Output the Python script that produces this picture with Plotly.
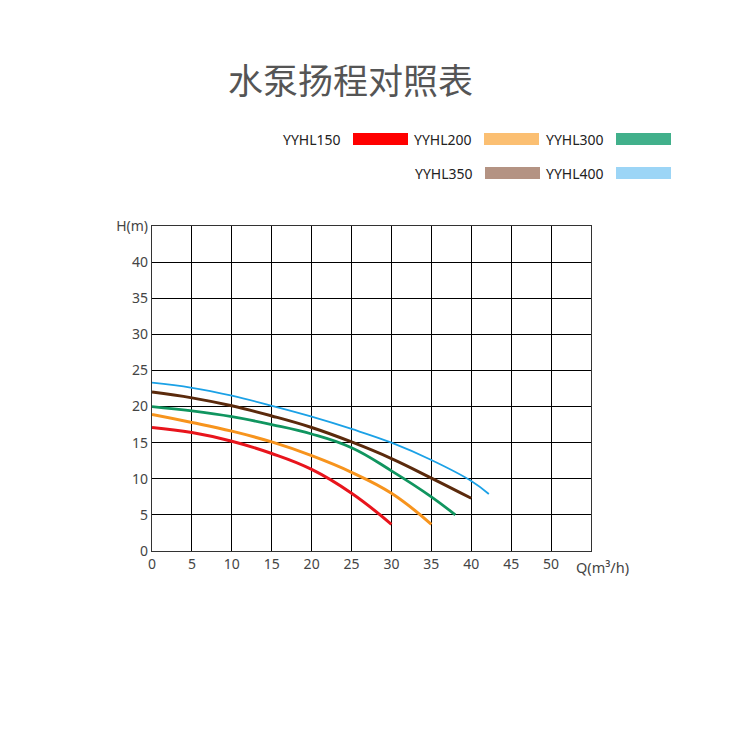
import plotly.graph_objects as go

# pump head curves: flow Q (m3/h) vs head H (m)
q150 = [0, 5, 10, 15, 20, 25, 30]
h150 = [17.1, 16.4, 15.2, 13.5, 11.3, 8.0, 3.7]

q200 = [0, 5, 10, 15, 20, 25, 30, 35]
h200 = [18.9, 17.8, 16.6, 15.1, 13.2, 10.9, 8.0, 3.7]

q300 = [0, 5, 10, 15, 20, 25, 30, 35, 38]
h300 = [20.0, 19.4, 18.6, 17.5, 16.2, 14.3, 11.1, 7.5, 5.0]

q350 = [0, 5, 10, 15, 20, 25, 30, 35, 40]
h350 = [22.0, 21.2, 20.1, 18.7, 17.1, 15.1, 12.8, 10.1, 7.3]

q400 = [0, 5, 10, 15, 20, 25, 30, 35, 40, 42.2]
h400 = [23.3, 22.6, 21.5, 20.1, 18.6, 16.9, 15.0, 12.6, 9.7, 7.9]

names = ["YYHL150", "YYHL200", "YYHL300", "YYHL350", "YYHL400"]
line_colors = ["#e8141c", "#f7941d", "#10955f", "#5b2a0c", "#1ba1e6"]
legend_colors = ["#ff0000", "#fbbf72", "#41b08b", "#b49383", "#9cd5f6"]
line_widths = [3, 3, 2.8, 3, 1.8]

x_ticks = [0, 5, 10, 15, 20, 25, 30, 35, 40, 45, 50]
y_ticks = [0, 5, 10, 15, 20, 25, 30, 35, 40, 45]
y_labels = ["0", "5", "10", "15", "20", "25", "30", "35", "40", "H(m)"]

W, H = 750, 746
OFF = 8  # page body margin
L, R, T, B = 152 - OFF, 750 - 591 + OFF, 226 - OFF, 746 - 551 + OFF
pw, ph = W - L - R, H - T - B


# page pixel -> paper coords for the hand placed legend
def px(x):
    return (x - OFF - L) / pw


def py(y):
    return (H - B - (y - OFF)) / ph


fig = go.Figure()
series = [(q150, h150), (q200, h200), (q300, h300), (q350, h350), (q400, h400)]
for (qs, hs), name, col, lw in zip(series, names, line_colors, line_widths):
    fig.add_trace(go.Scatter(x=qs, y=hs, mode="lines", name=name,
                             line=dict(color=col, width=lw, shape="spline", smoothing=1.2),
                             showlegend=False))

# legend: text + coloured block, two rows
legend_pos = [(343, 139), (474, 139), (606, 139), (475, 173), (606, 173)]
for (tx, ty), name, col in zip(legend_pos, names, legend_colors):
    fig.add_annotation(x=px(tx), y=py(ty), xref="paper", yref="paper",
                       text=name, showarrow=False, xanchor="right", yanchor="middle",
                       font=dict(family="Noto Sans", size=14, color="#222"))
    fig.add_shape(type="rect", xref="paper", yref="paper",
                  x0=px(tx + 10), x1=px(tx + 65), y0=py(ty - 6), y1=py(ty + 6),
                  fillcolor=col, line=dict(width=0))

fig.add_annotation(x=55, y=0, xref="x", yref="y", text="Q(m³/h)", showarrow=False,
                   xanchor="left", yanchor="top", xshift=-17, yshift=-4,
                   font=dict(family="Noto Sans", size=14.5, color="#444"))

fig.update_layout(
    width=W, height=H,
    margin=dict(l=L, r=R, t=T, b=B),
    paper_bgcolor="white", plot_bgcolor="white",
    title=dict(text="水泵扬程对照表", x=(350.5 - OFF) / W, xanchor="center",
               y=1 - (82 - OFF) / H, yanchor="middle",
               font=dict(family="Noto Sans CJK SC", size=35, color="#555")),
    font=dict(family="Noto Sans", size=14, color="#444"),
)
fig.update_xaxes(range=[0, 55], tickvals=x_ticks, showgrid=True, gridcolor="black",
                 gridwidth=1.3, showline=True, linecolor="#333", linewidth=1.3,
                 mirror=True, zeroline=False, ticks="")
fig.update_yaxes(range=[0, 45], tickvals=y_ticks, ticktext=y_labels, showgrid=True,
                 gridcolor="black", gridwidth=1.3, showline=True, linecolor="#333",
                 linewidth=1.3, mirror=True, zeroline=False, ticks="")

fig.write_html("out.html")
